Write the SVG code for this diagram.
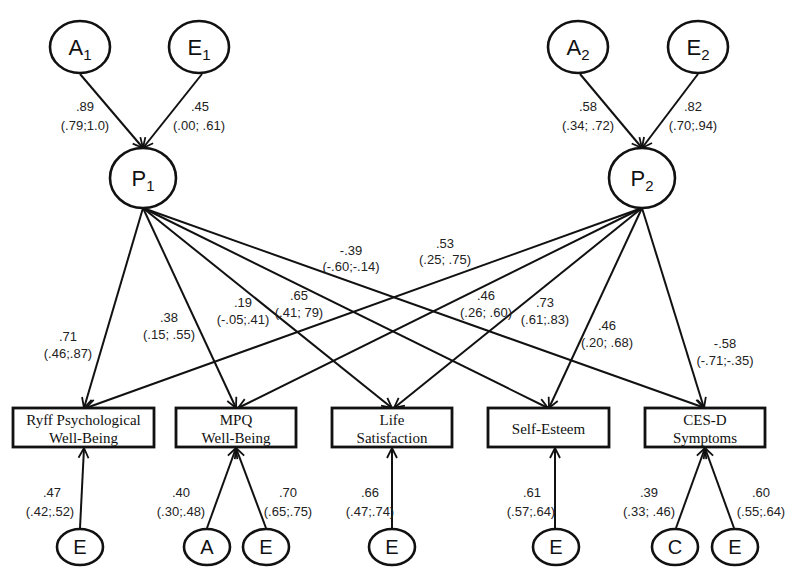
<svg xmlns="http://www.w3.org/2000/svg" width="800" height="577" viewBox="0 0 800 577">
<defs>
<marker id="arr" markerWidth="14" markerHeight="14" refX="11" refY="6" orient="auto" markerUnits="userSpaceOnUse">
<path d="M1,1 L11,6 L1,11" fill="none" stroke="#111" stroke-width="1.8"/>
</marker>
<style>
.lat{fill:#fff;stroke:#111;stroke-width:2.6}
.box{fill:#fff;stroke:#111;stroke-width:2.8}
.c{stroke:#111;stroke-width:2;fill:none;marker-end:url(#arr)}
.lbl{font-family:"Liberation Sans",Arial,sans-serif;font-size:13px;fill:#222;text-anchor:middle}
.big{font-family:"Liberation Sans",Arial,sans-serif;font-size:22px;fill:#111;text-anchor:middle}
.sm{font-family:"Liberation Sans",Arial,sans-serif;font-size:20px;fill:#111;text-anchor:middle}
.bt{font-family:"Liberation Serif","Times New Roman",serif;font-size:15px;fill:#111;text-anchor:middle}
</style>
</defs>
<rect width="800" height="577" fill="#fff"/>
<g id="connectors">
<line class="c" x1="80" y1="74" x2="143" y2="148"/>
<line class="c" x1="202" y1="74" x2="143" y2="148"/>
<line class="c" x1="580" y1="74" x2="642" y2="148"/>
<line class="c" x1="698" y1="74" x2="642" y2="148"/>
<line class="c" x1="143" y1="208" x2="84" y2="408"/>
<line class="c" x1="143" y1="208" x2="236" y2="408"/>
<line class="c" x1="143" y1="208" x2="392" y2="408"/>
<line class="c" x1="143" y1="208" x2="548" y2="408"/>
<line class="c" x1="143" y1="208" x2="705" y2="408"/>
<line class="c" x1="642" y1="208" x2="86" y2="408"/>
<line class="c" x1="642" y1="208" x2="238" y2="408"/>
<line class="c" x1="642" y1="208" x2="394" y2="408"/>
<line class="c" x1="642" y1="208" x2="549" y2="408"/>
<line class="c" x1="642" y1="208" x2="704" y2="408"/>
<line class="c" x1="80" y1="528" x2="84" y2="448"/>
<line class="c" x1="207" y1="528" x2="236" y2="448"/>
<line class="c" x1="266" y1="528" x2="236" y2="448"/>
<line class="c" x1="392" y1="528" x2="392" y2="448"/>
<line class="c" x1="555" y1="528" x2="555" y2="448"/>
<line class="c" x1="676" y1="528" x2="705" y2="448"/>
<line class="c" x1="734" y1="528" x2="705" y2="448"/>
</g>
<g id="labels">
<text class="lbl" x="85" y="111">.89</text><text class="lbl" x="85" y="130">(.79;1.0)</text>
<text class="lbl" x="200" y="111">.45</text><text class="lbl" x="199" y="130">(.00; .61)</text>
<text class="lbl" x="588" y="111">.58</text><text class="lbl" x="588" y="130">(.34; .72)</text>
<text class="lbl" x="693" y="111">.82</text><text class="lbl" x="693" y="130">(.70;.94)</text>
<text class="lbl" x="68" y="341">.71</text><text class="lbl" x="68" y="358">(.46;.87)</text>
<text class="lbl" x="169" y="322">.38</text><text class="lbl" x="169" y="339">(.15; .55)</text>
<text class="lbl" x="243" y="307">.19</text><text class="lbl" x="243" y="324">(-.05;.41)</text>
<text class="lbl" x="299" y="300">.65</text><text class="lbl" x="299" y="317">(.41; 79)</text>
<text class="lbl" x="351" y="255">-.39</text><text class="lbl" x="351" y="271">(-.60;-.14)</text>
<text class="lbl" x="445" y="248">.53</text><text class="lbl" x="445" y="264">(.25; .75)</text>
<text class="lbl" x="486" y="300">.46</text><text class="lbl" x="486" y="317">(.26; .60)</text>
<text class="lbl" x="545" y="307">.73</text><text class="lbl" x="545" y="324">(.61;.83)</text>
<text class="lbl" x="607" y="330">.46</text><text class="lbl" x="607" y="347">(.20; .68)</text>
<text class="lbl" x="725" y="348">-.58</text><text class="lbl" x="725" y="365">(-.71;-.35)</text>
<text class="lbl" x="52" y="497">.47</text><text class="lbl" x="50" y="516">(.42;.52)</text>
<text class="lbl" x="181" y="497">.40</text><text class="lbl" x="181" y="516">(.30;.48)</text>
<text class="lbl" x="288" y="497">.70</text><text class="lbl" x="288" y="516">(.65;.75)</text>
<text class="lbl" x="370" y="497">.66</text><text class="lbl" x="370" y="516">(.47;.74)</text>
<text class="lbl" x="532" y="497">.61</text><text class="lbl" x="531" y="516">(.57;.64)</text>
<text class="lbl" x="649" y="497">.39</text><text class="lbl" x="649" y="516">(.33; .46)</text>
<text class="lbl" x="761" y="497">.60</text><text class="lbl" x="761" y="516">(.55;.64)</text>
</g>
<g id="A1"><ellipse class="lat" cx="80" cy="47" rx="30" ry="26"/><text class="big" x="80" y="55">A<tspan font-size="15" dy="5">1</tspan></text></g>
<g id="E1"><ellipse class="lat" cx="199" cy="47" rx="30" ry="26"/><text class="big" x="199" y="55">E<tspan font-size="15" dy="5">1</tspan></text></g>
<g id="A2"><ellipse class="lat" cx="578" cy="47" rx="30" ry="26"/><text class="big" x="578" y="55">A<tspan font-size="15" dy="5">2</tspan></text></g>
<g id="E2"><ellipse class="lat" cx="698" cy="47" rx="30" ry="26"/><text class="big" x="698" y="55">E<tspan font-size="15" dy="5">2</tspan></text></g>
<g id="P1"><ellipse class="lat" cx="143" cy="178" rx="33" ry="30"/><text class="big" x="143" y="186">P<tspan font-size="15" dy="5">1</tspan></text></g>
<g id="P2"><ellipse class="lat" cx="642" cy="178" rx="33" ry="30"/><text class="big" x="642" y="186">P<tspan font-size="15" dy="5">2</tspan></text></g>
<g id="ryff"><rect class="box" x="13" y="408" width="141" height="39"/><text class="bt" x="83.5" y="425">Ryff Psychological</text><text class="bt" x="83.5" y="443">Well-Being</text></g>
<g id="mpq"><rect class="box" x="176" y="408" width="120" height="39"/><text class="bt" x="236" y="425">MPQ</text><text class="bt" x="236" y="443">Well-Being</text></g>
<g id="life"><rect class="box" x="332" y="408" width="120" height="39"/><text class="bt" x="392" y="425">Life</text><text class="bt" x="392" y="443">Satisfaction</text></g>
<g id="self"><rect class="box" x="488" y="408" width="121" height="39"/><text class="bt" x="548.5" y="434">Self-Esteem</text></g>
<g id="cesd"><rect class="box" x="645" y="408" width="120" height="39"/><text class="bt" x="705" y="425">CES-D</text><text class="bt" x="705" y="443">Symptoms</text></g>
<g id="E_ryff"><ellipse class="lat" cx="80" cy="547" rx="23" ry="18"/><text class="sm" x="80" y="554">E</text></g>
<g id="A_mpq"><ellipse class="lat" cx="207" cy="547" rx="23" ry="18"/><text class="sm" x="207" y="554">A</text></g>
<g id="E_mpq"><ellipse class="lat" cx="266" cy="547" rx="23" ry="18"/><text class="sm" x="266" y="554">E</text></g>
<g id="E_life"><ellipse class="lat" cx="392" cy="547" rx="23" ry="18"/><text class="sm" x="392" y="554">E</text></g>
<g id="E_self"><ellipse class="lat" cx="556" cy="547" rx="23" ry="18"/><text class="sm" x="556" y="554">E</text></g>
<g id="C_cesd"><ellipse class="lat" cx="675" cy="547" rx="23" ry="18"/><text class="sm" x="675" y="554">C</text></g>
<g id="E_cesd"><ellipse class="lat" cx="735" cy="547" rx="23" ry="18"/><text class="sm" x="735" y="554">E</text></g>
</svg>
